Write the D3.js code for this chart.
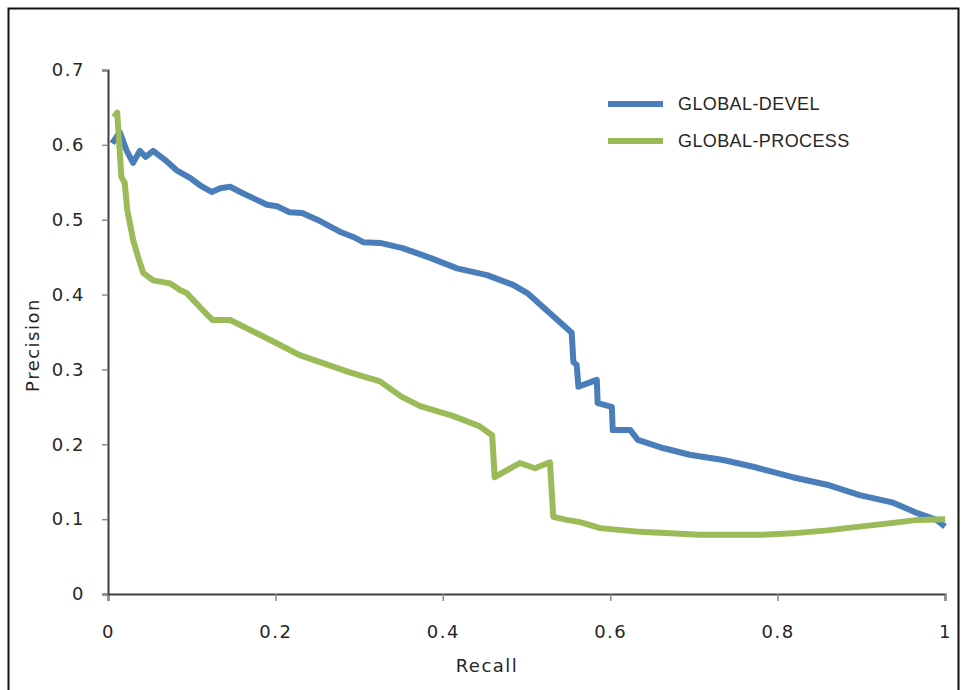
<!DOCTYPE html>
<html>
<head>
<meta charset="utf-8">
<script src="https://cdn.jsdelivr.net/npm/d3@7"></script>
<style>
  body { margin: 0; background: #fff; }
  text { fill: #262626; }
</style>
</head>
<body>
<svg id="chart"></svg>
<script>
// series (recall, precision)
let develRecall = [0.005, 0.014, 0.022, 0.030, 0.038, 0.045, 0.054, 0.068, 0.082, 0.098, 0.110, 0.124, 0.134, 0.146, 0.158, 0.190, 0.202, 0.217, 0.232, 0.250, 0.277, 0.293, 0.305, 0.325, 0.352, 0.385, 0.417, 0.453, 0.484, 0.501, 0.524, 0.540, 0.554, 0.556, 0.560, 0.562, 0.584, 0.585, 0.602, 0.603, 0.624, 0.633, 0.663, 0.695, 0.735, 0.771, 0.818, 0.859, 0.898, 0.938, 0.967, 0.990, 1.000]
let develPrecision = [0.602, 0.617, 0.593, 0.576, 0.592, 0.584, 0.592, 0.580, 0.566, 0.556, 0.546, 0.537, 0.542, 0.544, 0.537, 0.520, 0.518, 0.510, 0.509, 0.500, 0.484, 0.477, 0.470, 0.469, 0.462, 0.449, 0.435, 0.426, 0.413, 0.402, 0.379, 0.363, 0.349, 0.310, 0.306, 0.277, 0.286, 0.255, 0.250, 0.219, 0.219, 0.206, 0.195, 0.186, 0.179, 0.170, 0.156, 0.146, 0.132, 0.122, 0.108, 0.099, 0.090]

let processRecall = [0.007, 0.011, 0.016, 0.020, 0.023, 0.030, 0.036, 0.042, 0.054, 0.074, 0.086, 0.094, 0.110, 0.125, 0.146, 0.182, 0.205, 0.229, 0.289, 0.325, 0.350, 0.373, 0.412, 0.444, 0.459, 0.462, 0.492, 0.510, 0.528, 0.532, 0.548, 0.564, 0.588, 0.636, 0.707, 0.779, 0.818, 0.859, 0.898, 0.938, 0.967, 1.000]
let processPrecision = [0.637, 0.643, 0.557, 0.549, 0.513, 0.473, 0.450, 0.429, 0.419, 0.415, 0.406, 0.402, 0.383, 0.366, 0.366, 0.346, 0.333, 0.319, 0.296, 0.284, 0.264, 0.251, 0.238, 0.224, 0.212, 0.156, 0.175, 0.168, 0.176, 0.103, 0.099, 0.096, 0.088, 0.083, 0.079, 0.079, 0.081, 0.085, 0.090, 0.095, 0.099, 0.100]

let seriesNames = ['GLOBAL-DEVEL', 'GLOBAL-PROCESS']
let colors = ['#4a7ebb', '#9bbb59']
let xTicks = [0, 0.2, 0.4, 0.6, 0.8, 1]
let yTicks = [0, 0.1, 0.2, 0.3, 0.4, 0.5, 0.6, 0.7]

let width = 961
let height = 690

let margin = { top: 70, right: 16, bottom: 96, left: 108 }

let axisFont = '"DejaVu Sans", Verdana, sans-serif'

const svg = d3.select('#chart')
    .attr('width', width)
    .attr('height', height)

// outer frame
svg.append('rect')
    .attr('x', 8.5).attr('y', 8.5)
    .attr('width', 950).attr('height', 700)
    .attr('fill', 'none')
    .attr('stroke', '#111')
    .attr('stroke-width', 2)

let x = d3.scaleLinear().domain([0, 1]).range([margin.left, width - margin.right])
let y = d3.scaleLinear().domain([0, 0.7]).range([height - margin.bottom, margin.top])

// axes
let xAxis = svg.append('g')
    .attr('transform', `translate(0,${y(0)})`)
    .call(d3.axisBottom(x).tickValues(xTicks).tickFormat(d3.format('')).tickSize(7).tickPadding(24))
let yAxis = svg.append('g')
    .attr('transform', `translate(${x(0)},0)`)
    .call(d3.axisLeft(y).tickValues(yTicks).tickFormat(d3.format('')).tickSize(6).tickPadding(17))

for (let ax of [xAxis, yAxis]) {
    ax.select('.domain').attr('stroke', '#404040').attr('stroke-width', 2)
    ax.selectAll('.tick line').attr('stroke', '#8c8c8c').attr('stroke-width', 1.5)
    ax.selectAll('.tick text')
        .attr('fill', '#262626')
        .style('font-size', '18px')
        .style('font-family', axisFont)
        .style('letter-spacing', '1.5px')
}

// axis titles
svg.append('text')
    .attr('x', 487).attr('y', 672)
    .attr('text-anchor', 'middle')
    .style('font-family', axisFont)
    .style('font-size', '18px')
    .style('letter-spacing', '1.5px')
    .text('Recall')

svg.append('text')
    .attr('transform', 'translate(39,345) rotate(-90)')
    .attr('text-anchor', 'middle')
    .style('font-family', axisFont)
    .style('font-size', '18px')
    .style('letter-spacing', '1.5px')
    .text('Precision')

// lines
let line = d3.line()
    .x(d => x(d[0]))
    .y(d => y(d[1]))

let series = [
    d3.zip(develRecall, develPrecision),
    d3.zip(processRecall, processPrecision)
]

series.forEach((s, i) => {
    svg.append('path')
        .datum(s)
        .attr('d', line)
        .attr('fill', 'none')
        .attr('stroke', colors[i])
        .attr('stroke-width', 6)
        .attr('stroke-linejoin', 'round')
})

// legend
let legend = svg.append('g').attr('transform', 'translate(608,104)')
seriesNames.forEach((name, i) => {
    legend.append('line')
        .attr('x1', 0).attr('x2', 55)
        .attr('y1', i * 37).attr('y2', i * 37)
        .attr('stroke', colors[i])
        .attr('stroke-width', 6)
    legend.append('text')
        .attr('x', 70).attr('y', i * 37)
        .attr('dy', '0.35em')
        .style('font-family', '"Liberation Sans", Arial, sans-serif')
        .style('font-size', '18px')
        .style('letter-spacing', '0.4px')
        .text(name)
})
</script>
</body>
</html>
